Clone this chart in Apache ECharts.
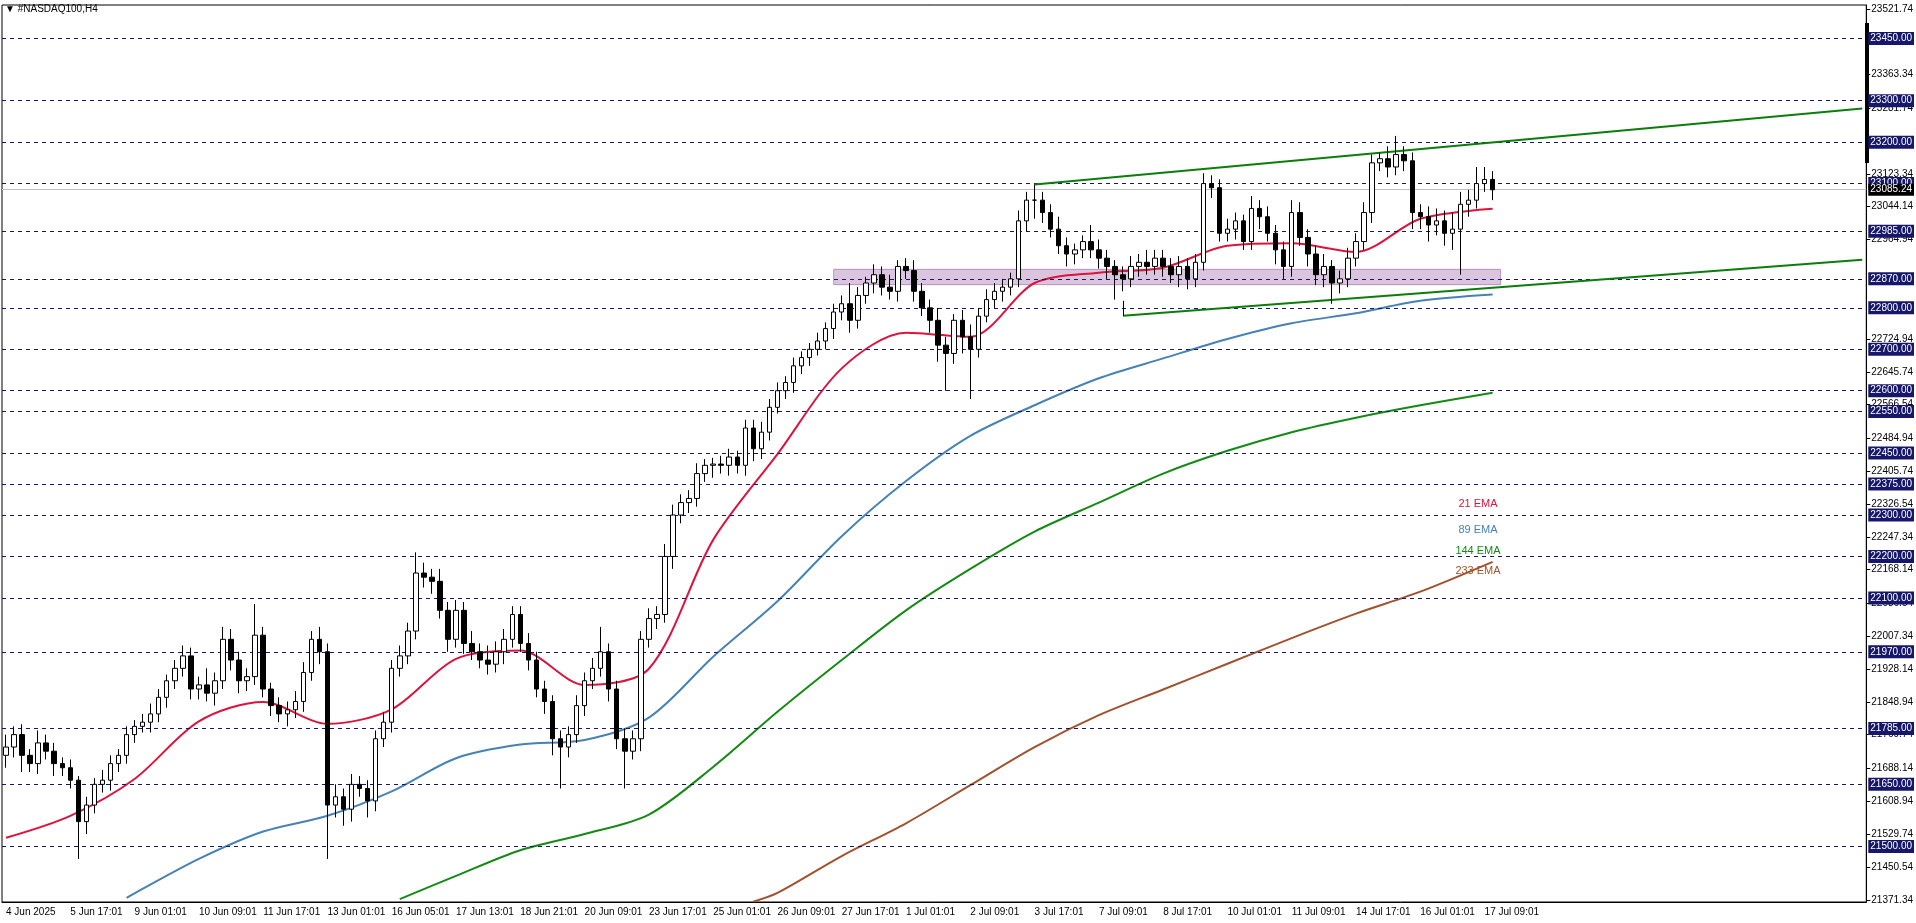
<!DOCTYPE html>
<html>
<head>
<meta charset="utf-8">
<script src="https://cdn.jsdelivr.net/npm/echarts@6/dist/echarts.min.js"></script>
<style>
  html, body { margin: 0; padding: 0; background: #fff; }
  #chart { width: 1916px; height: 923px; }
</style>
</head>
<body>
<div id="chart"></div>
<script>
// time labels, one every 8 bars (H4)
const xLabels = ['4 Jun 2025', '5 Jun 17:01', '9 Jun 01:01', '10 Jun 09:01', '11 Jun 17:01', '13 Jun 01:01',
  '16 Jun 05:01', '17 Jun 13:01', '18 Jun 21:01', '20 Jun 09:01', '23 Jun 17:01', '25 Jun 01:01',
  '26 Jun 09:01', '27 Jun 17:01', '1 Jul 01:01', '2 Jul 09:01', '3 Jul 17:01', '7 Jul 09:01',
  '8 Jul 17:01', '10 Jul 01:01', '11 Jul 09:01', '14 Jul 17:01', '16 Jul 01:01', '17 Jul 09:01'];

const firstOpen = 21720;
const closes = [
  21740, 21770, 21720, 21700, 21750, 21730, 21700, 21690,
  21660, 21560, 21600, 21650, 21660, 21700, 21720, 21770,
  21790, 21800, 21820, 21860, 21900, 21930, 21960, 21880,
  21890, 21870, 21900, 22000, 21950, 21900, 21910, 22010,
  21880, 21840, 21820, 21830, 21850, 21920, 22000, 21970,
  21600, 21620, 21590, 21650, 21640, 21610, 21760, 21800,
  21930, 21960, 22020, 22160, 22150, 22140, 22070, 22000,
  22070, 21990, 21970, 21950, 21940, 21970, 22000, 22060,
  21990, 21950, 21880, 21850, 21760, 21740, 21770, 21840,
  21900, 21930, 21970, 21880, 21760, 21730, 21760, 22000,
  22050, 22060, 22200, 22300, 22330, 22340, 22400, 22420,
  22423, 22420, 22440, 22420, 22510, 22460, 22500, 22560,
  22600, 22620, 22660, 22680, 22700, 22720, 22750, 22790,
  22810, 22770, 22830, 22860, 22880, 22850, 22840, 22900,
  22890, 22840, 22800, 22770, 22710, 22690, 22770, 22730,
  22700, 22780, 22820, 22840, 22850, 22870, 23010, 23060,
  23060, 23030, 22990, 22950, 22930, 22940, 22960, 22940,
  22920, 22900, 22880, 22870, 22900, 22910, 22900, 22920,
  22900, 22880, 22900, 22870, 22910, 23100, 23090, 22980,
  22990, 23010, 22960, 23040, 23020, 22980, 22940, 22900,
  23030, 22970, 22930, 22880, 22900, 22860, 22870, 22920,
  22960, 23030, 23150, 23160, 23140, 23170, 23155, 23030,
  23020, 23000, 23010, 22980, 22990, 23050, 23060, 23100,
  23110, 23085
];
const upWick = [
  30,20,25,15,30,20,20,15, 20,10,20,15,25,20,15,20, 15,20,25,20,15,20,25,20,
  20,40,20,30,25,20,20,75, 20,15,20,20,25,25,20,30, 20,30,20,25,20,20,20,25,
  20,25,20,50,25,20,30,20, 25,20,30,20,35,25,25,20, 20,25,20,20,15,20,20,25,
  20,25,60,20,20,25,20,20, 25,20,30,25,20,20,25,15, 15,20,20,15,20,20,25,20,
  20,15,20,15,15,20,15,20, 20,50,20,15,25,20,30,15, 20,25,20,20,30,20,15,25,
  30,20,25,20,20,15,25,20, 25,20,20,30,20,15,15,40, 25,20,15,20,25,20,30,20,
  20,20,25,20,20,25,20,20, 25,20,15,30,20,25,20,20, 30,25,20,20,30,15,20,25,
  20,25,20,15,30,45,20,20, 20,25,30,25,40,30,25,40, 30,20
];
const downWick = [
  30,25,40,20,25,20,30,20, 20,90,30,20,20,25,20,20, 20,15,25,20,25,20,20,25,
  25,20,30,20,25,30,25,20, 20,25,20,30,20,25,20,30, 130,30,40,30,20,40,25,20,
  25,20,20,20,25,30,20,30, 20,25,20,20,25,20,30,20, 20,25,20,30,40,100,25,20,
  25,20,20,30,25,90,20,30, 20,25,20,30,20,25,20,20, 30,20,25,20,25,30,25,20,
  15,20,25,20,20,15,20,25, 20,30,20,20,25,20,20,25, 20,25,20,30,40,90,25,40,
  120,20,15,20,25,20,20,25, 20,25,20,20,30,25,20,20, 25,30,60,30,20,25,20,20,
  25,20,30,25,20,20,25,20, 20,25,20,20,30,20,35,30, 25,20,30,25,30,50,25,20,
  20,20,25,20,25,20,25,40, 30,40,25,30,40,110,30,20, 20,25
];

// moving averages: [bar index, value]
const ema21 = [[0,21521],[8,21574],[16,21663],[24,21802],[32,21849],[40,21796],[48,21831],[56,21953],
  [64,21973],[72,21890],[80,21929],[88,22240],[96,22447],[104,22654],[112,22740],[120,22730],
  [128,22860],[136,22885],[144,22897],[152,22950],[160,22956],[168,22935],[176,23015],[185,23039]];
const ema89 = [[15,21376],[16,21387],[24,21470],[32,21536],[40,21574],[48,21633],[56,21713],[64,21746],
  [72,21757],[80,21811],[88,21958],[96,22092],[104,22249],[112,22382],[120,22491],[128,22565],
  [136,22630],[144,22678],[152,22725],[160,22763],[168,22787],[176,22817],[185,22832]];
const ema144 = [[49,21373],[56,21429],[64,21491],[72,21530],[80,21577],[88,21692],[96,21825],[104,21950],
  [112,22070],[120,22170],[128,22260],[136,22330],[144,22400],[152,22455],[160,22500],[168,22535],
  [176,22565],[185,22595]];
const ema233 = [[93,21367],[96,21388],[104,21477],[112,21556],[120,21648],[128,21740],[136,21817],
  [144,21879],[152,21941],[160,22003],[168,22062],[176,22115],[185,22187]];

const levels = [23450, 23300, 23200, 23100, 22985, 22870, 22800, 22700, 22600, 22550, 22450,
  22375, 22300, 22200, 22100, 21970, 21785, 21650, 21500];
const priceTicks = [21371.34, 21450.54, 21529.74, 21608.94, 21688.14, 21769.74, 21848.94, 21928.14,
  22007.34, 22086.54, 22168.14, 22247.34, 22326.54, 22405.74, 22484.94, 22566.54, 22645.74,
  22724.94, 22964.94, 23044.14, 23123.34, 23281.74, 23363.34, 23521.74];
const bidPrice = 23085.24;
const zone = [103, 186, 22856, 22893];
const upperLine = [[128, 23098], [231, 23281]];
const lowerLine = [[139, 22781], [231, 22916]];

const TOTAL = 232;
const cats = [];
for (let i = 0; i < TOTAL; i++) cats.push(i);

const ohlc = closes.map((c, i) => {
  const o = i === 0 ? firstOpen : closes[i - 1];
  return [o, c, Math.min(o, c) - downWick[i], Math.max(o, c) + upWick[i]];
});

const fill = pairs => {
  const arr = new Array(TOTAL).fill(null);
  pairs.forEach(p => { arr[p[0]] = p[1]; });
  return arr;
};

const NAVY = '#16166a';
const font = 'Liberation Sans';

const chart = echarts.init(document.getElementById('chart'));

const emaSeries = (name, pairs, color) => ({
  name, type: 'line', data: fill(pairs), connectNulls: true, smooth: 0.3,
  showSymbol: false, symbol: 'none', silent: true,
  lineStyle: { color, width: 2 }, z: 3
});

chart.setOption({
  animation: false,
  textStyle: { fontFamily: font },
  grid: { left: 2, right: 49, top: 5, bottom: 21, show: true, borderColor: '#000', borderWidth: 1 },
  xAxis: {
    type: 'category', data: cats, boundaryGap: true,
    axisLine: { lineStyle: { color: '#000' } },
    axisTick: { interval: (i) => i % 8 === 0 && i / 8 < xLabels.length, alignWithLabel: true, length: 4, lineStyle: { color: '#000' } },
    axisLabel: {
      interval: (i) => i % 8 === 0 && i / 8 < xLabels.length,
      formatter: (v, i) => xLabels[i / 8] || '',
      align: 'left', color: '#000', fontSize: 10, margin: 5, fontFamily: font
    },
    splitLine: { show: false }
  },
  yAxis: {
    type: 'value', position: 'right', min: 21366, max: 23531, scale: true,
    axisLine: { show: true, lineStyle: { color: '#000' } },
    axisTick: { show: true, customValues: priceTicks, length: 4, lineStyle: { color: '#000' } },
    axisLabel: { customValues: priceTicks, formatter: v => v.toFixed(2), color: '#000', fontSize: 10, margin: 5, fontFamily: font },
    splitLine: { show: false }
  },
  graphic: [
    { type: 'text', left: 5, top: 4, style: { text: '▼ #NASDAQ100,H4', fontSize: 10, fill: '#000', fontFamily: font } },
    { type: 'rect', shape: { x: 1865, y: 23, width: 4, height: 140 }, style: { fill: '#000' } },
    { type: 'text', x: 1478, y: 498, style: { text: '21 EMA', fill: '#dc143c', fontSize: 11, align: 'center', fontFamily: font } },
    { type: 'text', x: 1478, y: 524, style: { text: '89 EMA', fill: '#4682b4', fontSize: 11, align: 'center', fontFamily: font } },
    { type: 'text', x: 1478, y: 545, style: { text: '144 EMA', fill: '#138a13', fontSize: 11, align: 'center', fontFamily: font } },
    { type: 'text', x: 1478, y: 565, style: { text: '233 EMA', fill: '#a0522d', fontSize: 11, align: 'center', fontFamily: font } }
  ],
  series: [
    {
      name: 'NASDAQ100', type: 'candlestick', data: ohlc, barWidth: 5, z: 5,
      itemStyle: { color: '#fff', color0: '#000', borderColor: '#000', borderColor0: '#000', borderWidth: 1 },
      markArea: {
        silent: true,
        itemStyle: { color: 'rgba(190,150,195,0.55)', borderColor: 'rgba(150,100,160,0.6)', borderWidth: 1 },
        data: [[{ coord: [zone[0], zone[3]] }, { coord: [zone[1], zone[2]] }]]
      },
      markLine: {
        silent: true, symbol: 'none',
        data: levels.map(v => ({
          yAxis: v,
          lineStyle: { color: NAVY, type: [4, 4], width: 1 },
          label: { show: true, position: 'end', formatter: v.toFixed(2), color: '#fff', backgroundColor: NAVY,
            fontSize: 10, padding: [2, 2, 1, 2], distance: 2, fontFamily: font }
        })).concat([
          { yAxis: bidPrice, lineStyle: { color: '#c0c0c0', type: 'solid', width: 1 },
            label: { show: true, position: 'end', formatter: bidPrice.toFixed(2), color: '#fff', backgroundColor: '#000',
              fontSize: 10, padding: [1, 2, 1, 2], distance: 2, fontFamily: font } },
          [{ coord: upperLine[0], lineStyle: { color: '#0a7d0a', type: 'solid', width: 2 }, label: { show: false } }, { coord: upperLine[1] }],
          [{ coord: lowerLine[0], lineStyle: { color: '#0a7d0a', type: 'solid', width: 2 }, label: { show: false } }, { coord: lowerLine[1] }],
          [{ coord: [128, 23015], lineStyle: { color: '#000', type: 'solid', width: 1 }, label: { show: false } }, { coord: upperLine[0] }],
          [{ coord: [139, 22817], lineStyle: { color: '#000', type: 'solid', width: 1 }, label: { show: false } }, { coord: lowerLine[0] }]
        ])
      }
    },
    emaSeries('21 EMA', ema21, '#dc143c'),
    emaSeries('89 EMA', ema89, '#4682b4'),
    emaSeries('144 EMA', ema144, '#138a13'),
    emaSeries('233 EMA', ema233, '#a0522d')
  ]
});

window.addEventListener('resize', () => chart.resize());
</script>
</body>
</html>
